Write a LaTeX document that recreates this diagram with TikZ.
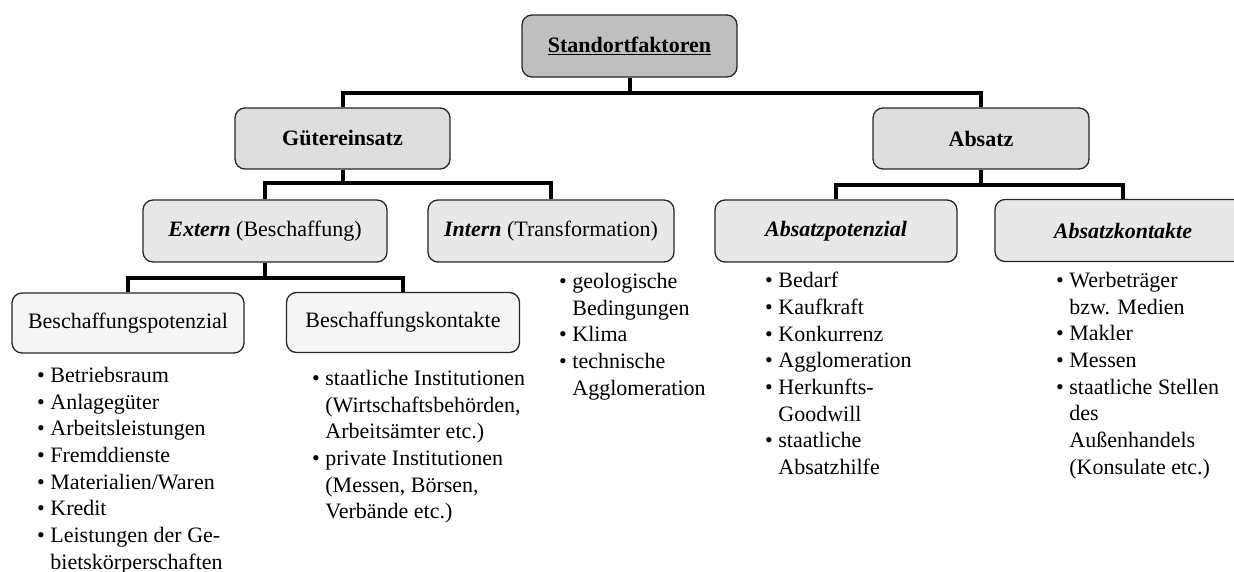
\documentclass[tikz,border=0pt]{standalone}
\usepackage{fontspec}
\setmainfont{Liberation Serif}
\newcommand{\bitem}{\textbullet\ }
\newcommand{\bcont}{\phantom{\textbullet\ }}
\begin{document}
\begin{tikzpicture}[x=1pt,y=-1pt,
  txt/.style={font=\fontsize{22}{26.7}\selectfont},
  box/.style={txt, draw=black!85, line width=1.3pt, rounded corners=10pt,
    minimum height=61pt, inner sep=0pt, align=center},
  top/.style={box, fill=black!25},
  lvlone/.style={box, fill=black!13},
  lvltwo/.style={box, fill=black!9},
  lvlthree/.style={box, fill=black!4},
  conn/.style={line width=4pt, line join=miter},
  lst/.style={txt, anchor=north west, inner sep=0pt, align=left}]
\useasboundingbox (0,0) rectangle (1234,572);
\clip (0,0) rectangle (1234,572);

% boxes
\node[top, minimum width=215pt, minimum height=62pt] (std) at (629.5,46) {\textbf{\underline{Standortfaktoren}}};
\node[lvlone, minimum width=215pt] (gue) at (342.5,138.5) {\textbf{Gütereinsatz}};
\node[lvlone, minimum width=216pt] (abs) at (981,138.5) {\textbf{Absatz}};
\node[lvltwo, minimum width=244pt, minimum height=62pt] (ext) at (265,231) {\textbf{\textit{Extern}} (Beschaffung)};
\node[lvltwo, minimum width=246pt, minimum height=62pt] (int) at (551,231) {\textbf{\textit{Intern}} (Transformation)};
\node[lvltwo, minimum width=242pt, minimum height=62pt] (apot) at (836,231) {\textbf{\textit{Absatzpotenzial}}};
\node[lvltwo, minimum width=256pt, minimum height=62pt] (akon) at (1123,230.5) {\textbf{\textit{Absatzkontakte}}};
\node[lvlthree, minimum width=232pt, minimum height=60pt] (bpot) at (128,323) {Beschaffungspotenzial};
\node[lvlthree, minimum width=233pt, minimum height=60pt] (bkon) at (403,322.5) {Beschaffungskontakte};

% connector bars
\coordinate (j0) at (629.5,93);
\coordinate (j1) at (342.5,183);
\coordinate (j2) at (981,185);
\coordinate (j3) at (265,278);
\draw[conn] (std.south) -- (j0);
\draw[conn] (gue.north) -- (gue.north |- j0) -- (abs.north |- j0) -- (abs.north);
\draw[conn] (gue.south) -- (j1);
\draw[conn] (ext.north) -- (ext.north |- j1) -- (int.north |- j1) -- (int.north);
\draw[conn] (abs.south) -- (j2);
\draw[conn] (apot.north) -- (apot.north |- j2) -- (akon.north |- j2) -- (akon.north);
\draw[conn] (ext.south) -- (j3);
\draw[conn] (bpot.north) -- (bpot.north |- j3) -- (bkon.north |- j3) -- (bkon.north);

% item lists
\node[lst] (lbpot) at (37,367) {\bitem Betriebsraum\\
  \bitem Anlagegüter\\
  \bitem Arbeitsleistungen\\
  \bitem Fremddienste\\
  \bitem Materialien/Waren\\
  \bitem Kredit\\
  \bitem Leistungen der Ge-\\
  \bcont bietskörperschaften};
\node[lst] (lbkon) at (312,370) {\bitem staatliche Institutionen\\
  \bcont (Wirtschaftsbehörden,\\
  \bcont Arbeitsämter etc.)\\
  \bitem private Institutionen\\
  \bcont (Messen, Börsen,\\
  \bcont Verbände etc.)};
\node[lst] (lint) at (559,273) {\bitem geologische\\
  \bcont Bedingungen\\
  \bitem Klima\\
  \bitem technische\\
  \bcont Agglomeration};
\node[lst] (lapot) at (765,272) {\bitem Bedarf\\
  \bitem Kaufkraft\\
  \bitem Konkurrenz\\
  \bitem Agglomeration\\
  \bitem Herkunfts-\\
  \bcont Goodwill\\
  \bitem staatliche\\
  \bcont Absatzhilfe};
\node[lst] (lakon) at (1056,272) {\bitem Werbeträger\\
  \bcont bzw. Medien\\
  \bitem Makler\\
  \bitem Messen\\
  \bitem staatliche Stellen\\
  \bcont des\\
  \bcont Außenhandels\\
  \bcont (Konsulate etc.)};
\end{tikzpicture}
\end{document}
